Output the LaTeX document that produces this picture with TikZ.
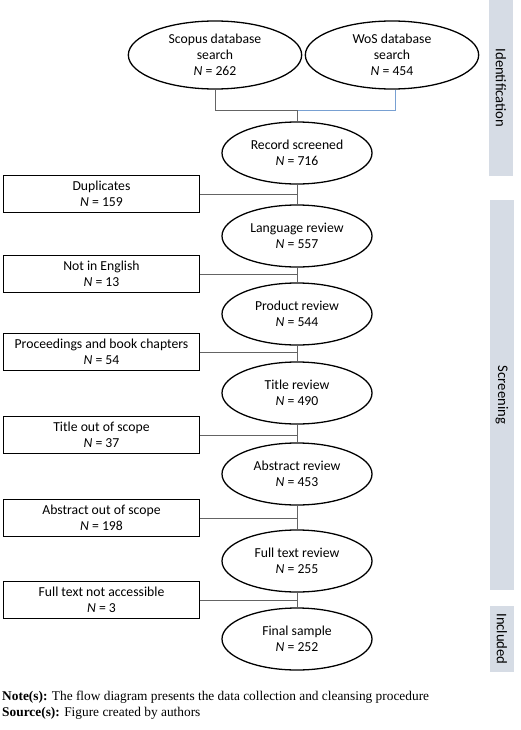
\documentclass[tikz,border=0pt]{standalone}
\usepackage{fontspec}
\setmainfont{Carlito}
\newfontfamily\notefont{Liberation Serif}
\usetikzlibrary{positioning,shapes.geometric}
\definecolor{barfill}{RGB}{214,220,229}
\definecolor{linkgray}{RGB}{100,100,100}
\definecolor{linkblue}{RGB}{120,160,210}

\begin{document}
\begin{tikzpicture}[x=0.03cm, y=-0.03cm,
    stage/.style={ellipse, draw, line width=1.1pt, minimum width=4.5cm, minimum height=1.86cm, align=center, inner sep=0pt, font=\fontsize{11.7}{13.5}\selectfont},
    source/.style={stage, minimum width=5.2cm, minimum height=2.04cm},
    removed/.style={rectangle, draw, line width=1.1pt, minimum width=5.9cm, minimum height=1.11cm, align=center, inner sep=0pt, font=\fontsize{11.7}{13.5}\selectfont},
    phase/.style={fill=barfill, rotate=-90, minimum height=0.7cm, inner sep=0pt, font=\fontsize{12.5}{14}\selectfont},
    link/.style={draw=linkgray, line width=0.6pt}
]
\useasboundingbox (0,0) rectangle (520,730);

% Phase bars
\node[phase, minimum width=5.28cm] (ident) at (501,88) {Identification};
\node[phase, minimum width=11.7cm] (screen) at (502,395) {Screening};
\node[phase, minimum width=1.98cm] (incl) at (502,639) {Included};

% Sources
\node[source] (scopus) at (215,55) {Scopus database\\search\\\textit{N} = 262};
\node[source] (wos) at (392,55) {WoS database\\search\\\textit{N} = 454};

% Main stages
\node[stage] (rec) at (297,153) {Record screened\\\textit{N} = 716};
\node[stage] (lang) at (297,236) {Language review\\\textit{N} = 557};
\node[stage] (prod) at (297,314) {Product review\\\textit{N} = 544};
\node[stage] (title) at (297,393) {Title review\\\textit{N} = 490};
\node[stage] (abs) at (297,474) {Abstract review\\\textit{N} = 453};
\node[stage] (full) at (297,561) {Full text review\\\textit{N} = 255};
\node[stage] (final) at (297,639) {Final sample\\\textit{N} = 252};

% Exclusions
\node[removed] (dup) at (101.5,194) {Duplicates\\\textit{N} = 159};
\node[removed] (eng) at (101.5,274) {Not in English\\\textit{N} = 13};
\node[removed] (proc) at (101.5,352) {Proceedings and book chapters\\\textit{N} = 54};
\node[removed] (tscope) at (101.5,435) {Title out of scope\\\textit{N} = 37};
\node[removed] (ascope) at (101.5,518) {Abstract out of scope\\\textit{N} = 198};
\node[removed] (access) at (101.5,600) {Full text not accessible\\\textit{N} = 3};

% Merge of the two searches
\coordinate (merge) at (297,110);
\draw[link] (scopus.south) |- (merge);
\draw[draw=linkblue, line width=0.6pt] (merge) -| (wos.south -| 395,0);
\draw[link] (merge) -- (rec);

% Flow
\draw[link] (rec) -- (lang);
\draw[link] (lang) -- (prod);
\draw[link] (prod) -- (title);
\draw[link] (title) -- (abs);
\draw[link] (abs) -- (full);
\draw[link] (full) -- (final);

% Side links
\draw[link] (dup.east) -- (dup.east -| rec.south);
\draw[link] (eng.east) -- (eng.east -| lang.south);
\draw[link] (proc.east) -- (proc.east -| prod.south);
\draw[link] (tscope.east) -- (tscope.east -| title.south);
\draw[link] (ascope.east) -- (ascope.east -| abs.south);
\draw[link] (access.east) -- (access.east -| full.south);

% Note
\node[anchor=west, align=left, inner sep=0pt, font=\notefont\fontsize{11.4}{13.5}\selectfont] (note) at (2,705)
  {\textbf{Note(s):} The flow diagram presents the data collection and cleansing procedure\\
   \textbf{Source(s):} Figure created by authors};
\end{tikzpicture}
\end{document}
